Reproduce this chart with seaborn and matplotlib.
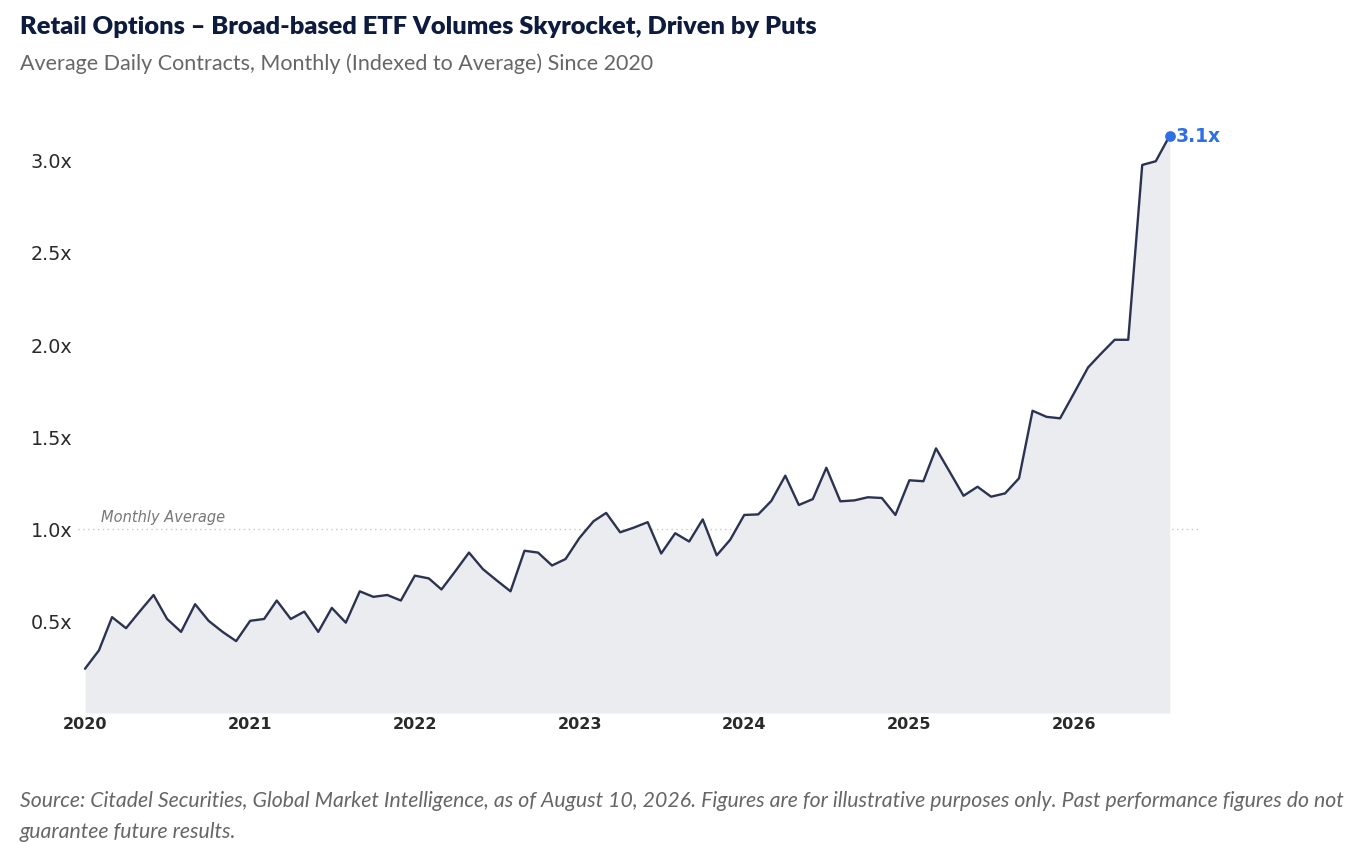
import pandas as pd
import numpy as np
import seaborn as sns
import matplotlib.pyplot as plt
import matplotlib.dates as mdates
from matplotlib.ticker import FuncFormatter

# monthly index values, Jan 2020 .. Aug 2026
vals_2020 = [0.24, 0.34, 0.52, 0.46, 0.55, 0.64, 0.51, 0.44, 0.59, 0.50, 0.44, 0.39]
vals_2021 = [0.50, 0.51, 0.61, 0.51, 0.55, 0.44, 0.57, 0.49, 0.66, 0.63, 0.64, 0.61]
vals_2022 = [0.745, 0.73, 0.67, 0.77, 0.87, 0.78, 0.72, 0.66, 0.88, 0.87, 0.80, 0.835]
vals_2023 = [0.95, 1.04, 1.085, 0.98, 1.005, 1.035, 0.865, 0.975, 0.93, 1.05, 0.855, 0.94]
vals_2024 = [1.074, 1.077, 1.15, 1.287, 1.128, 1.16, 1.33, 1.148, 1.153, 1.17, 1.166, 1.074]
vals_2025 = [1.262, 1.257, 1.435, 1.305, 1.178, 1.227, 1.173, 1.191, 1.273, 1.639, 1.606, 1.598]
vals_2026 = [1.735, 1.874, 1.947, 2.024, 2.024, 2.972, 2.992, 3.131]

values = vals_2020 + vals_2021 + vals_2022 + vals_2023 + vals_2024 + vals_2025 + vals_2026
months = pd.date_range("2020-01-01", periods=len(values), freq="MS")
df = pd.DataFrame({"month": months, "index": values})

y_ticks = [0.5, 1.0, 1.5, 2.0, 2.5, 3.0]
last_label = "3.1x"

title = "Retail Options \u2013 Broad-based ETF Volumes Skyrocket, Driven by Puts"
subtitle = "Average Daily Contracts, Monthly (Indexed to Average) Since 2020"
footer = ("Source: Citadel Securities, Global Market Intelligence, as of August 10, 2026. "
          "Figures are for illustrative purposes only. Past performance figures do not\n"
          "guarantee future results.")

sns.set_theme(style="white")
plt.rcParams['font.family'] = ['DejaVu Sans']

fig = plt.figure(figsize=(13.65, 8.45), dpi=100)
ax = fig.add_axes([0.0573, 0.155, 0.8228, 0.7093])

line_color = "#2b3351"
ax.fill_between(df["month"], 0, df["index"], color="#ebecef", linewidth=0)
sns.lineplot(data=df, x="month", y="index", ax=ax, color=line_color, linewidth=1.7)

# monthly average reference line
ax.axhline(1.0, color="#c8c8c8", linestyle=(0, (1, 2.5)), linewidth=1.0, zorder=0)
ax.text(pd.Timestamp("2020-02-05"), 1.025, "Monthly Average", style="italic",
        color="#777777", fontsize=10.5, va="bottom", ha="left")

# highlight last point
last = df.iloc[-1]
ax.scatter([last["month"]], [last["index"]], color="#2f6fe4", s=45, zorder=5)
ax.annotate(last_label, (last["month"], last["index"]), xytext=(4, 0),
            textcoords="offset points", color="#2f6fe4", fontsize=13.5,
            fontweight="bold", va="center", ha="left")

ax.set_xlim(pd.Timestamp("2019-12-17"), pd.Timestamp("2026-10-10"))
ax.set_ylim(0, 3.25)
ax.set_yticks(y_ticks)
ax.yaxis.set_major_formatter(FuncFormatter(lambda v, p: f"{v:.1f}x"))
ax.xaxis.set_major_locator(mdates.YearLocator())
ax.xaxis.set_major_formatter(mdates.DateFormatter("%Y"))
ax.set_xlabel("")
ax.set_ylabel("")
ax.tick_params(axis="y", length=0, labelsize=13.8, labelcolor="#2a2a2a", pad=4)
ax.tick_params(axis="x", length=0, labelsize=11.5, labelcolor="#2a2a2a", pad=2)
for lbl in ax.get_xticklabels():
    lbl.set_fontweight("bold")
sns.despine(ax=ax, left=True, bottom=True)

fig.text(0.0147, 0.968, title, fontsize=18.3, fontweight="heavy", color="#0d1b3e",
         family=["Lato", "DejaVu Sans"], va="center", ha="left")
fig.text(0.0147, 0.925, subtitle, fontsize=15.5, color="#666666",
         family=["Lato", "DejaVu Sans"], va="center", ha="left")
fig.text(0.0147, 0.004, footer, fontsize=15.3, color="#666666", style="italic",
         family=["Lato", "DejaVu Sans"], va="bottom", ha="left", linespacing=1.68)

fig.savefig("out.png", dpi=100)
